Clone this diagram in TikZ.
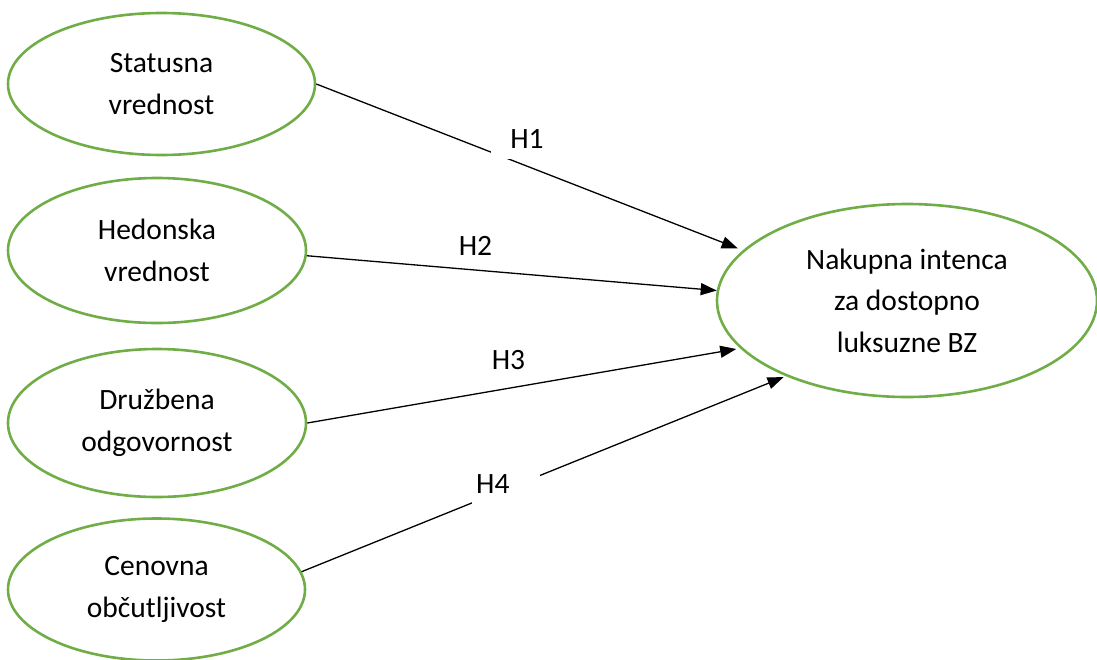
\documentclass[tikz,border=0pt]{standalone}
\usepackage{fontspec}
\setmainfont{Carlito}
\usetikzlibrary{shapes.geometric,arrows.meta}
\definecolor{ogreen}{HTML}{70AD47}
\begin{document}
\begin{tikzpicture}[x=1pt,y=-1pt,
  lat/.style={ellipse,draw=ogreen,line width=2.6pt,inner sep=0pt,align=center,
    font=\fontsize{29.5}{41.5}\selectfont},
  hyp/.style={-{Triangle[length=16pt,width=12pt]},line width=1.3pt,draw=black},
  hlab/.style={font=\fontsize{29.5}{34}\selectfont,inner sep=0pt}]
\useasboundingbox (0,0) rectangle (1097,659);
% latent constructs
\node[lat,minimum width=307pt,minimum height=142pt] (s1) at (161.5,84) {Statusna\\vrednost};
\node[lat,minimum width=298pt,minimum height=145pt] (s2) at (157,250.5) {Hedonska\\vrednost};
\node[lat,minimum width=298pt,minimum height=148pt] (s3) at (157,423) {Družbena\\odgovornost};
\node[lat,minimum width=297pt,minimum height=142pt] (s4) at (156.5,589.5) {Cenovna\\občutljivost};
\node[lat,minimum width=380pt,minimum height=193pt] (t) at (907,300.5) {Nakupna intenca\\za dostopno\\luksuzne BZ};
% hypotheses
\draw[hyp,shorten >=5.5pt] (s1.east) -- (t.163);
\draw[hyp,shorten >=0pt] (s2.-2) -- (t.177);
\draw[hyp,shorten >=4pt] (s3.east) -- (t.196);
\draw[hyp,shorten >=2.5pt] (s4.7) -- (t.212);
% labels
\node[hlab,fill=white,minimum width=72pt,minimum height=39pt] (h1) at (527,139.5) {H1};
\node[hlab] (h2) at (475.5,246) {H2};
\node[hlab] (h3) at (508.5,360) {H3};
\node[hlab,fill=white,anchor=west,text width=60pt,inner xsep=4pt,minimum height=46pt] (h4) at (472,484.5) {H4};
\end{tikzpicture}
\end{document}
